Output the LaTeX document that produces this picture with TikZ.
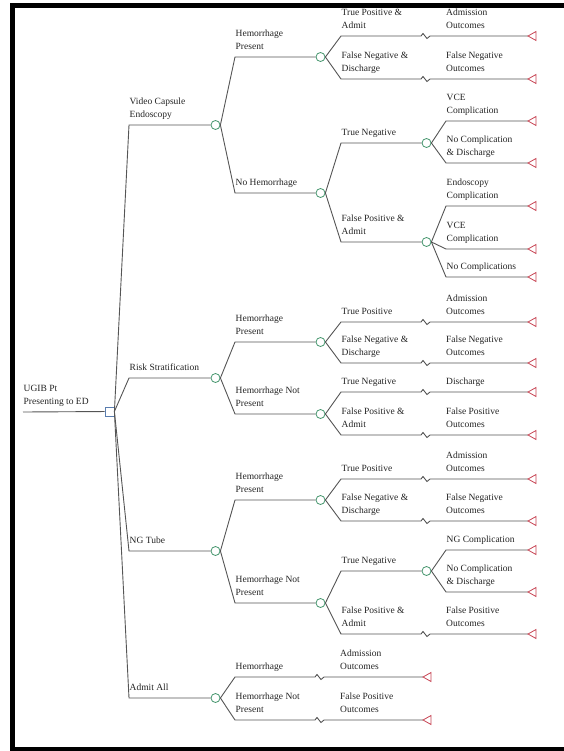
\documentclass[tikz,border=0pt]{standalone}
\usepackage{fontspec}
\setmainfont{Liberation Serif}
\definecolor{lg}{RGB}{85,85,85}
\definecolor{cg}{RGB}{70,150,110}
\definecolor{tr}{RGB}{200,70,85}
\definecolor{db}{RGB}{90,125,175}
\definecolor{tx}{RGB}{35,35,35}
\newcommand\tl[2]{\begin{tabular}[b]{@{}l@{}}#1\\#2\end{tabular}}
\begin{document}
\begin{tikzpicture}[x=1pt,y=-1pt,
  conn/.style={draw=lg,line width=0.9pt},
  chance/.style={circle,draw=cg,fill=white,line width=0.8pt,minimum size=9pt,inner sep=0pt},
  decision/.style={rectangle,draw=db,fill=white,line width=0.8pt,minimum size=9pt,inner sep=0pt},
  lbl/.style={anchor=base west,inner sep=0pt,xshift=0.5pt,yshift=7.5pt,text=tx,font=\fontsize{9.5}{13}\selectfont},
  olbl/.style={anchor=base west,inner sep=0pt,xshift=105pt,yshift=7.5pt,text=tx,font=\fontsize{9.5}{13}\selectfont},
  zig/.style={to path={-- ++(80,0) -- ++(2,-2.5) -- ++(4,5) -- ++(3,-2.5) -- (\tikztotarget)}},
  term/.style={draw=tr,fill=white,line width=0.8pt,line join=miter},
]
\useasboundingbox (0,0) rectangle (563,751);
% frame
\draw[line width=5pt,black] (12.5,5.8) rectangle (600,749);

% root
\coordinate (r0) at (23,412);
\node[decision] (dn) at (109.5,411.5) {};
\draw[conn] (r0) -- (dn);
\node[lbl] at (r0) {\tl{UGIB Pt}{Presenting to ED}};

% level 1
\coordinate (a1) at (129,125);
\coordinate (a2) at (129,378);
\coordinate (a3) at (129,551);
\coordinate (a4) at (129,698);
\node[chance] (A1) at (215.5,125) {};
\node[chance] (A2) at (215.5,378) {};
\node[chance] (A3) at (215.5,551) {};
\node[chance] (A4) at (215.5,698) {};
\draw[conn] (dn.east) -- (a1) -- (A1);
\draw[conn] (dn.east) -- (a2) -- (A2);
\draw[conn] (dn.east) -- (a3) -- (A3);
\draw[conn] (dn.east) -- (a4) -- (A4);
\node[lbl] at (a1) {\tl{Video Capsule}{Endoscopy}};
\node[lbl] at (a2) {Risk Stratification};
\node[lbl] at (a3) {NG Tube};
\node[lbl] at (a4) {Admit All};

% level 2
\coordinate (b11) at (235,57);
\coordinate (b12) at (235,193);
\coordinate (b21) at (235,342);
\coordinate (b22) at (235,414);
\coordinate (b31) at (235,500);
\coordinate (b32) at (235,603);
\coordinate (b41) at (235,677);
\coordinate (b42) at (235,720);
\node[chance] (B11) at (320.5,57) {};
\node[chance] (B12) at (320.5,193) {};
\node[chance] (B21) at (320.5,342) {};
\node[chance] (B22) at (320.5,414) {};
\node[chance] (B31) at (320.5,500) {};
\node[chance] (B32) at (320.5,603) {};
\coordinate (t41) at (423,677);
\coordinate (t42) at (423,720);
\draw[conn] (A1.east) -- (b11) -- (B11);
\draw[conn] (A1.east) -- (b12) -- (B12);
\draw[conn] (A2.east) -- (b21) -- (B21);
\draw[conn] (A2.east) -- (b22) -- (B22);
\draw[conn] (A3.east) -- (b31) -- (B31);
\draw[conn] (A3.east) -- (b32) -- (B32);
\draw[conn] (A4.east) -- (b41) to[zig] (t41);
\draw[conn] (A4.east) -- (b42) to[zig] (t42);
\node[lbl] at (b11) {\tl{Hemorrhage}{Present}};
\node[lbl] at (b12) {No Hemorrhage};
\node[lbl] at (b21) {\tl{Hemorrhage}{Present}};
\node[lbl] at (b22) {\tl{Hemorrhage Not}{Present}};
\node[lbl] at (b31) {\tl{Hemorrhage}{Present}};
\node[lbl] at (b32) {\tl{Hemorrhage Not}{Present}};
\node[lbl] at (b41) {Hemorrhage};
\node[lbl] at (b42) {\tl{Hemorrhage Not}{Present}};
\node[olbl] at (b41) {\tl{Admission}{Outcomes}};
\node[olbl] at (b42) {\tl{False Positive}{Outcomes}};

% level 3
\coordinate (c111) at (341,36);
\coordinate (c112) at (341,79);
\coordinate (c121) at (341,143);
\coordinate (c122) at (341,242);
\coordinate (c211) at (341,322);
\coordinate (c212) at (341,363);
\coordinate (c221) at (341,392);
\coordinate (c222) at (341,435);
\coordinate (c311) at (341,479);
\coordinate (c312) at (341,521);
\coordinate (c321) at (341,571);
\coordinate (c322) at (341,634);
\node[chance] (C121) at (426.5,143) {};
\node[chance] (C122) at (426.5,242) {};
\node[chance] (C321) at (426.5,571) {};
\coordinate (t111) at (528,36);
\coordinate (t112) at (528,79);
\coordinate (t211) at (528,322);
\coordinate (t212) at (528,363);
\coordinate (t221) at (528,392);
\coordinate (t222) at (528,435);
\coordinate (t311) at (528,479);
\coordinate (t312) at (528,521);
\coordinate (t322) at (528,634);
\draw[conn] (B11.east) -- (c111) to[zig] (t111);
\draw[conn] (B11.east) -- (c112) to[zig] (t112);
\draw[conn] (B12.east) -- (c121) -- (C121);
\draw[conn] (B12.east) -- (c122) -- (C122);
\draw[conn] (B21.east) -- (c211) to[zig] (t211);
\draw[conn] (B21.east) -- (c212) to[zig] (t212);
\draw[conn] (B22.east) -- (c221) to[zig] (t221);
\draw[conn] (B22.east) -- (c222) to[zig] (t222);
\draw[conn] (B31.east) -- (c311) to[zig] (t311);
\draw[conn] (B31.east) -- (c312) to[zig] (t312);
\draw[conn] (B32.east) -- (c321) -- (C321);
\draw[conn] (B32.east) -- (c322) to[zig] (t322);
\node[lbl] at (c111) {\tl{True Positive \&}{Admit}};
\node[lbl] at (c112) {\tl{False Negative \&}{Discharge}};
\node[lbl] at (c121) {True Negative};
\node[lbl] at (c122) {\tl{False Positive \&}{Admit}};
\node[lbl] at (c211) {True Positive};
\node[lbl] at (c212) {\tl{False Negative \&}{Discharge}};
\node[lbl] at (c221) {True Negative};
\node[lbl] at (c222) {\tl{False Positive \&}{Admit}};
\node[lbl] at (c311) {True Positive};
\node[lbl] at (c312) {\tl{False Negative \&}{Discharge}};
\node[lbl] at (c321) {True Negative};
\node[lbl] at (c322) {\tl{False Positive \&}{Admit}};
\node[olbl] at (c111) {\tl{Admission}{Outcomes}};
\node[olbl] at (c112) {\tl{False Negative}{Outcomes}};
\node[olbl] at (c211) {\tl{Admission}{Outcomes}};
\node[olbl] at (c212) {\tl{False Negative}{Outcomes}};
\node[olbl] at (c221) {Discharge};
\node[olbl] at (c222) {\tl{False Positive}{Outcomes}};
\node[olbl] at (c311) {\tl{Admission}{Outcomes}};
\node[olbl] at (c312) {\tl{False Negative}{Outcomes}};
\node[olbl] at (c322) {\tl{False Positive}{Outcomes}};

% level 4
\coordinate (d1) at (446,121);
\coordinate (d2) at (446,163);
\coordinate (d3) at (446,206);
\coordinate (d4) at (446,249);
\coordinate (d5) at (446,277);
\coordinate (d6) at (446,550);
\coordinate (d7) at (446,592);
\coordinate (u1) at (528,121);
\coordinate (u2) at (528,163);
\coordinate (u3) at (528,206);
\coordinate (u4) at (528,249);
\coordinate (u5) at (528,277);
\coordinate (u6) at (528,550);
\coordinate (u7) at (528,592);
\draw[conn] (C121.east) -- (d1) -- (u1);
\draw[conn] (C121.east) -- (d2) -- (u2);
\draw[conn] (C122.east) -- (d3) -- (u3);
\draw[conn] (C122.east) -- (d4) -- (u4);
\draw[conn] (C122.east) -- (d5) -- (u5);
\draw[conn] (C321.east) -- (d6) -- (u6);
\draw[conn] (C321.east) -- (d7) -- (u7);
\node[lbl] at (d1) {\tl{VCE}{Complication}};
\node[lbl] at (d2) {\tl{No Complication}{\& Discharge}};
\node[lbl] at (d3) {\tl{Endoscopy}{Complication}};
\node[lbl] at (d4) {\tl{VCE}{Complication}};
\node[lbl] at (d5) {No Complications};
\node[lbl] at (d6) {NG Complication};
\node[lbl] at (d7) {\tl{No Complication}{\& Discharge}};

% terminal triangles
\foreach \t in {t41,t42,t111,t112,t211,t212,t221,t222,t311,t312,t322,u1,u2,u3,u4,u5,u6,u7}
  \draw[term] (\t) -- ++(8,-4.5) -- ++(0,9) -- cycle;
\end{tikzpicture}
\end{document}
